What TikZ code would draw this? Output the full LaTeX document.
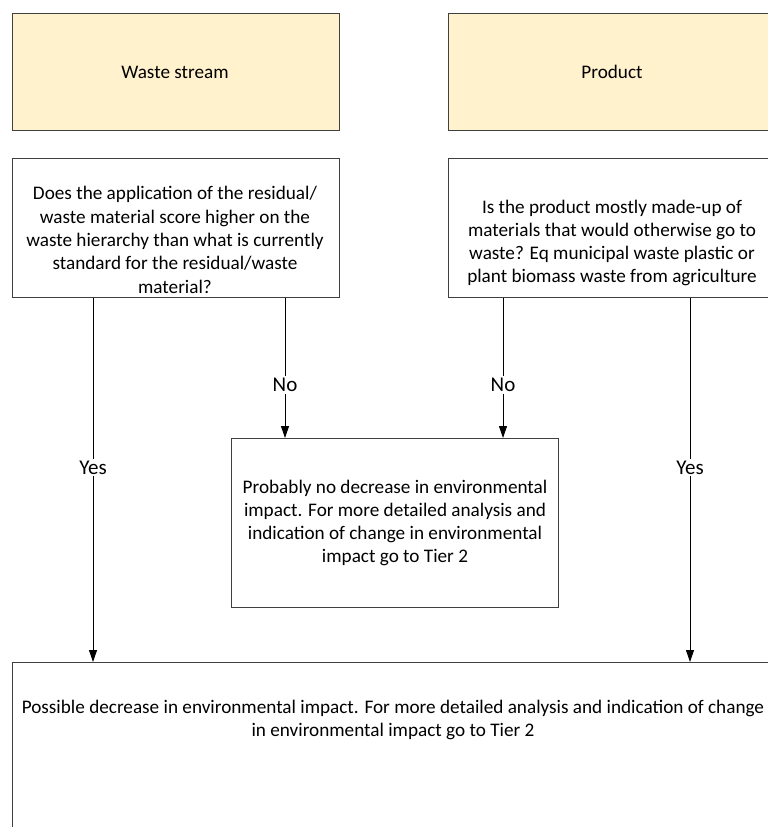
\documentclass[tikz,border=0pt]{standalone}
\usepackage{fontspec}
\setmainfont{Carlito}
\usetikzlibrary{arrows.meta}
\definecolor{boxfill}{HTML}{FFF2CC}
\definecolor{edgec}{HTML}{404040}
\begin{document}
\begin{tikzpicture}[x=1pt,y=-1pt,
  box/.style={draw=edgec, line width=1pt, rectangle, inner sep=0pt, anchor=north west},
  hdr/.style={box, fill=boxfill},
  txt/.style={align=center, inner sep=0pt, font=\fontsize{19.2pt}{23.3pt}\selectfont},
  arr/.style={draw=black, line width=0.9pt, -{Triangle[length=12pt,width=8pt]}},
  lbl/.style={fill=white, inner sep=2pt, font=\fontsize{21pt}{25pt}\selectfont}
]
\useasboundingbox (0,0) rectangle (768,827);
\clip (0,0) rectangle (768,827);
% header boxes
\node[hdr, minimum width=327pt, minimum height=117pt] (ws) at (12,13) {};
\node[hdr, minimum width=327pt, minimum height=117pt] (pr) at (448,13) {};
\node[txt] (wst) at (175,72) {Waste stream};
\node[txt] (prt) at (612,72) {Product};
% question boxes
\node[box, minimum width=327pt, minimum height=139pt] (q1) at (12,158) {};
\node[box, minimum width=327pt, minimum height=139pt] (q2) at (448,158) {};
\node[txt] (q1t) at (175,240) {Does the application of the residual/\\waste material score higher on the\\waste hierarchy than what is currently\\standard for the residual/waste\\material?};
\node[txt] (q2t) at (612,243) {Is the product mostly made-up of\\materials that would otherwise go to\\waste? Eq municipal waste plastic or\\plant biomass waste from agriculture};
% middle box
\node[box, minimum width=327pt, minimum height=169pt] (mid) at (231,438) {};
\node[txt] (midt) at (395,523) {Probably no decrease in environmental\\impact. For more detailed analysis and\\indication of change in environmental\\impact go to Tier 2};
% bottom box
\node[box, minimum width=762pt, minimum height=200pt] (bot) at (12,662) {};
\node[txt] (bott) at (393,720) {Possible decrease in environmental impact. For more detailed analysis and indication of change\\in environmental impact go to Tier 2};
% connectors
\draw[arr] ([xshift=273pt]q1.south west) -- node[lbl, pos=0.62] (no1) {No} ([xshift=54pt]mid.north west);
\draw[arr] ([xshift=55pt]q2.south west) -- node[lbl, pos=0.62] (no2) {No} ([xshift=272pt]mid.north west);
\draw[arr] ([xshift=81pt]q1.south west) -- node[lbl, pos=0.466] (yes1) {Yes} ([xshift=81pt]bot.north west);
\draw[arr] ([xshift=242pt]q2.south west) -- node[lbl, pos=0.466] (yes2) {Yes} ([xshift=678pt]bot.north west);
\end{tikzpicture}
\end{document}
